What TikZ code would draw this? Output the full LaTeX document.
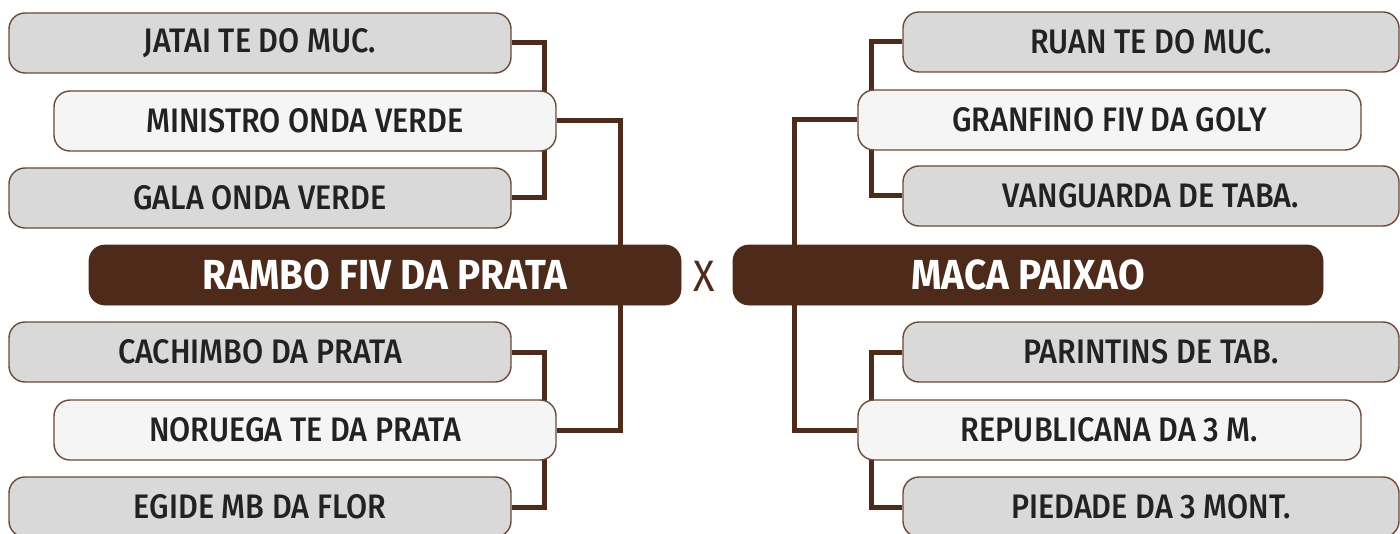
\documentclass[tikz,border=0pt]{standalone}
\usepackage{fontspec}
\newfontfamily\labfont{Fira Sans}[UprightFont=* Medium, BoldFont=* Bold, FakeStretch=0.9]
\newfontfamily\titfont{Fira Sans}[UprightFont=* Bold, FakeStretch=0.92]
\newfontfamily\xfont{Fira Sans}[FakeStretch=0.9]
\usetikzlibrary{backgrounds}
\definecolor{brn}{HTML}{4E2A1A}
\definecolor{edge}{HTML}{6B4A3A}
\definecolor{grayfill}{HTML}{D9D9D9}
\definecolor{lightfill}{HTML}{F5F5F5}
\definecolor{txt}{HTML}{222222}
\tikzset{
  base/.style={draw=edge, line width=0.7pt, rounded corners=8pt, minimum height=30pt,
    inner sep=0pt, font=\labfont\fontsize{17}{19}\selectfont, text=txt},
  graybox/.style={base, fill=grayfill},
  lightbox/.style={base, fill=lightfill},
  titlebox/.style={draw=brn, fill=brn, rounded corners=8pt, minimum height=30pt, inner sep=0pt,
    font=\titfont\fontsize{21}{23}\selectfont, text=white},
  conn/.style={draw=brn, line width=2.5pt}
}
\begin{document}
\begin{tikzpicture}[x=0.5pt,y=-0.5pt]
\useasboundingbox (0,0) rectangle (1400,534);
% left side
\node[graybox, minimum width=251pt] (jatai) at (260,43) {JATAI TE DO MUC.};
\node[lightbox, minimum width=251pt] (ministro) at (305,121) {MINISTRO ONDA VERDE};
\node[graybox, minimum width=251pt] (gala) at (260,198) {GALA ONDA VERDE};
\node[titlebox, minimum width=296pt] (rambo) at (385,275) {RAMBO FIV DA PRATA};
\node[graybox, minimum width=251pt] (cachimbo) at (260,352) {CACHIMBO DA PRATA};
\node[lightbox, minimum width=251pt] (noruega) at (305,430) {NORUEGA TE DA PRATA};
\node[graybox, minimum width=251pt] (egide) at (260,507) {EGIDE MB DA FLOR};
% middle
\node[text=brn, font=\xfont\fontsize{22}{24}\selectfont, inner sep=0pt] (x) at (704,276) {X};
% right side
\node[graybox, minimum width=248pt] (ruan) at (1151,42) {RUAN TE DO MUC.};
\node[lightbox, minimum width=251.5pt] (granfino) at (1109.5,120) {GRANFINO FIV DA GOLY};
\node[graybox, minimum width=248pt] (vanguarda) at (1151,196) {VANGUARDA DE TABA.};
\node[titlebox, minimum width=295pt] (maca) at (1028,275) {MACA PAIXAO};
\node[graybox, minimum width=248pt] (parintins) at (1151,352) {PARINTINS DE TAB.};
\node[lightbox, minimum width=251.5pt] (republicana) at (1109.5,430) {REPUBLICANA DA 3 M.};
\node[graybox, minimum width=248pt] (piedade) at (1151,507) {PIEDADE DA 3 MONT.};
\coordinate (lj) at (544,0);
\coordinate (lm) at (620,0);
\coordinate (rj) at (871,0);
\coordinate (rm) at (794,0);
\begin{scope}[on background layer]
\draw[conn] (jatai.east) -| (jatai.east -| lj) |- (gala.east);
\draw[conn] (cachimbo.east) -| (cachimbo.east -| lj) |- (egide.east);
\draw[conn] (ministro.east) -| (rambo.north -| lm);
\draw[conn] (rambo.south -| lm) |- (noruega.east);
\draw[conn] (ruan.west) -| (ruan.west -| rj) |- (vanguarda.west);
\draw[conn] (parintins.west) -| (parintins.west -| rj) |- (piedade.west);
\draw[conn] (granfino.west) -| (maca.north -| rm);
\draw[conn] (maca.south -| rm) |- (republicana.west);
\end{scope}
\end{tikzpicture}
\end{document}
